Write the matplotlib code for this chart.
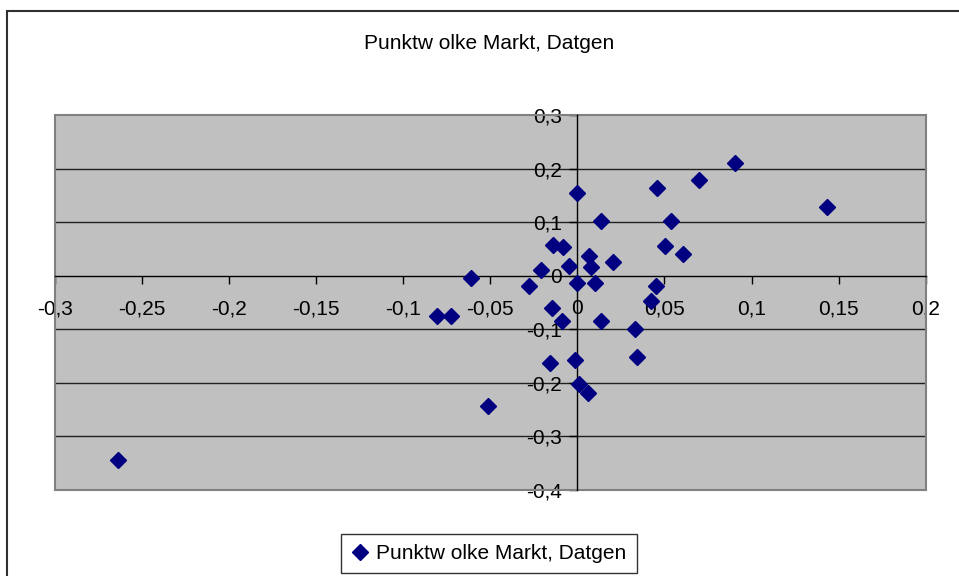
import numpy as np
import matplotlib
matplotlib.use('Agg')
import matplotlib.pyplot as plt
from matplotlib.patches import Rectangle
from matplotlib.ticker import FixedLocator, FuncFormatter

plt.rcParams['font.family'] = ['Liberation Sans', 'DejaVu Sans']

# Punktwolke: Rendite Markt (x) gegen Datgen (y)
x_markt = [-0.2639, -0.0805, -0.0726, -0.0613, -0.0515, -0.0276, -0.0209, -0.0142,
           -0.0146, -0.0159, -0.0081, -0.0088, -0.0046, -0.0016, 0.0, 0.0,
           0.0009, 0.0059, 0.0069, 0.0078, 0.0103, 0.0137, 0.0137, 0.0206,
           0.0333, 0.0342, 0.0425, 0.0450, 0.0457, 0.0505, 0.0539, 0.0608,
           0.0700, 0.0905, 0.1435]
y_datgen = [-0.344, -0.076, -0.076, -0.005, -0.243, -0.019, 0.010, 0.058,
            -0.061, -0.162, 0.054, -0.084, 0.018, -0.158, 0.155, -0.013,
            -0.202, -0.218, 0.037, 0.016, -0.013, 0.103, -0.084, 0.025,
            -0.099, -0.151, -0.047, -0.020, 0.163, 0.055, 0.103, 0.040,
            0.178, 0.211, 0.129]

x_ticks = [-0.3, -0.25, -0.2, -0.15, -0.1, -0.05, 0.0, 0.05, 0.1, 0.15, 0.2]
y_ticks = [-0.4, -0.3, -0.2, -0.1, 0.0, 0.1, 0.2, 0.3]

title = "Punktw olke Markt, Datgen"
series_name = "Punktw olke Markt, Datgen"


def comma_fmt(v, pos=None):
    return ('%g' % round(v, 4)).replace('.', ',')


fig = plt.figure(figsize=(9.59, 5.76), dpi=100)
ax = fig.add_axes([55 / 959, 86 / 576, 870.7 / 959, 375 / 576])
ax.set_facecolor('#c0c0c0')
ax.set_xlim(x_ticks[0], x_ticks[-1])
ax.set_ylim(y_ticks[0], y_ticks[-1])

# horizontal gridlines inside the plot area
for v in y_ticks[1:-1]:
    if v != 0:
        ax.axhline(v, color='#202020', lw=1.0, zorder=1)

# gray border round the plot area
ax.add_patch(Rectangle((0, 0), 1, 1, transform=ax.transAxes, fill=False,
                       edgecolor='#808080', lw=1.5, zorder=2, clip_on=False))

for s in ['top', 'right']:
    ax.spines[s].set_visible(False)
for s in ['left', 'bottom']:
    ax.spines[s].set_position(('data', 0))
    ax.spines[s].set_color('black')
    ax.spines[s].set_linewidth(1.0)
    ax.spines[s].set_zorder(3)

ax.xaxis.set_major_locator(FixedLocator(x_ticks))
ax.yaxis.set_major_locator(FixedLocator(y_ticks))
ax.xaxis.set_major_formatter(FuncFormatter(comma_fmt))
ax.yaxis.set_major_formatter(FuncFormatter(comma_fmt))
ax.tick_params(axis='both', direction='out', length=6, width=1, color='black',
               labelsize=15, labelcolor='black')
ax.tick_params(axis='x', pad=11)
ax.tick_params(axis='y', pad=5)

ax.plot(x_markt, y_datgen, linestyle='none', marker='D', markersize=8,
        color='#000080', label=series_name, zorder=4, clip_on=False)

fig.text(0.51, 0.925, title, ha='center', va='center', fontsize=15)

leg = fig.legend(loc='center', bbox_to_anchor=(489 / 959, 22.5 / 576),
                 frameon=True, fancybox=False, fontsize=15, handlelength=0.8,
                 handletextpad=0.4, borderpad=0.5, borderaxespad=0)
leg.get_frame().set_edgecolor('black')
leg.get_frame().set_linewidth(1.0)

# outer chart frame
fig.patches.append(Rectangle((7 / 959, -0.1), 1.2, 565 / 576 + 0.1,
                             transform=fig.transFigure, fill=False,
                             edgecolor='#303030', lw=1.5))

fig.savefig('out.png', dpi=100)
